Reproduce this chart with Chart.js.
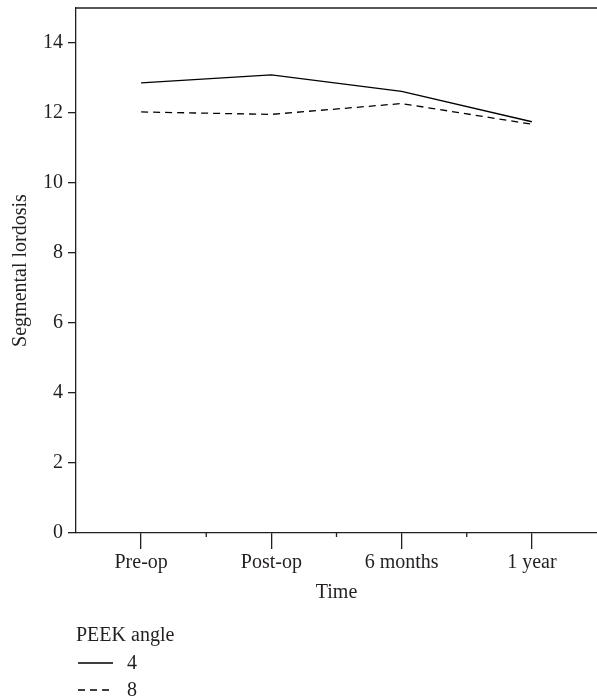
<!DOCTYPE html>
<html>
<head>
<meta charset="utf-8">
<title>Segmental lordosis</title>
<script src="https://cdn.jsdelivr.net/npm/chart.js@4.4.1/dist/chart.umd.min.js"></script>
<style>
  html, body { margin: 0; padding: 0; background: #fff; }
  #wrap { width: 597px; height: 700px; }
</style>
</head>
<body>
<div id="wrap"><canvas id="lordosisChart" width="597" height="700"></canvas></div>
<script>
const categories = ["Pre-op", "Post-op", "6 months", "1 year"];
const angle4 = [12.86, 13.09, 12.62, 11.75];
const angle8 = [12.03, 11.96, 12.27, 11.68];
const yTicks = [0, 2, 4, 6, 8, 10, 12, 14];
const legendTitle = "PEEK angle";
const seriesNames = ["4", "8"];

document.addEventListener("DOMContentLoaded", function () {
  const ink = "#231f20";
  const serif = "'Liberation Serif', 'DejaVu Serif', serif";
  const fontSize = 20;

  // top frame line + short ticks between the categories
  const framePlugin = {
    id: "frame",
    afterDraw(chart) {
      const { ctx, chartArea } = chart;
      const x = chart.scales.x;
      ctx.save();
      ctx.strokeStyle = ink;
      ctx.lineWidth = 1.3;
      ctx.beginPath();
      ctx.moveTo(chartArea.left, chartArea.top);
      ctx.lineTo(chartArea.right, chartArea.top);
      for (let i = 0; i < categories.length - 1; i++) {
        const mid = (x.getPixelForValue(i) + x.getPixelForValue(i + 1)) / 2;
        ctx.moveTo(mid, chartArea.bottom);
        ctx.lineTo(mid, chartArea.bottom + 4);
      }
      ctx.stroke();
      ctx.restore();
    }
  };

  // legend under the axis, stacked like the original
  const legendPlugin = {
    id: "stackedLegend",
    afterDraw(chart) {
      const { ctx } = chart;
      ctx.save();
      ctx.font = fontSize + "px " + serif;
      ctx.fillStyle = ink;
      ctx.textBaseline = "middle";
      ctx.fillText(legendTitle, 76, 636);
      chart.data.datasets.forEach((ds, i) => {
        const y = 663 + i * 27;
        ctx.strokeStyle = ds.borderColor;
        ctx.lineWidth = ds.borderWidth;
        ctx.setLineDash(ds.borderDash || []);
        ctx.beginPath();
        ctx.moveTo(78, y);
        ctx.lineTo(113, y);
        ctx.stroke();
        ctx.setLineDash([]);
        ctx.fillText(ds.label, 127, y + 1);
      });
      ctx.restore();
    }
  };

  new Chart(document.getElementById("lordosisChart"), {
    type: "line",
    data: {
      labels: categories,
      datasets: [
        { label: seriesNames[0], data: angle4, borderColor: "#000", borderWidth: 1.3, pointRadius: 0, tension: 0, fill: false },
        { label: seriesNames[1], data: angle8, borderColor: "#000", borderWidth: 1.3, borderDash: [7, 5], pointRadius: 0, tension: 0, fill: false }
      ]
    },
    options: {
      responsive: false,
      animation: false,
      layout: { padding: { top: 8, right: 0, left: 0, bottom: 87 } },
      plugins: { legend: { display: false }, tooltip: { enabled: false } },
      scales: {
        x: {
          offset: true,
          afterFit: s => { s.height = 80; s.paddingLeft = 0; s.paddingRight = 0; },
          grid: { drawOnChartArea: false, offset: false, tickLength: 16, color: ink, lineWidth: 1.3 },
          border: { color: ink, width: 1.3 },
          ticks: { color: ink, font: { family: serif, size: fontSize }, padding: 2, maxRotation: 0 },
          title: { display: true, text: "Time", color: ink, font: { family: serif, size: fontSize }, padding: { top: 4, bottom: 8 } }
        },
        y: {
          min: 0,
          max: 15,
          afterFit: s => { s.width = 76; s.paddingTop = 0; s.paddingBottom = 0; },
          afterBuildTicks: s => { s.ticks = yTicks.map(v => ({ value: v })); },
          grid: { drawOnChartArea: false, tickLength: 8, color: ink, lineWidth: 1.3 },
          border: { color: ink, width: 1.3 },
          ticks: { color: ink, font: { family: serif, size: fontSize }, padding: 5 },
          title: { display: true, text: "Segmental lordosis", color: ink, font: { family: serif, size: fontSize }, padding: { top: 9, bottom: 0 } }
        }
      }
    },
    plugins: [framePlugin, legendPlugin]
  });
});
</script>
</body>
</html>
